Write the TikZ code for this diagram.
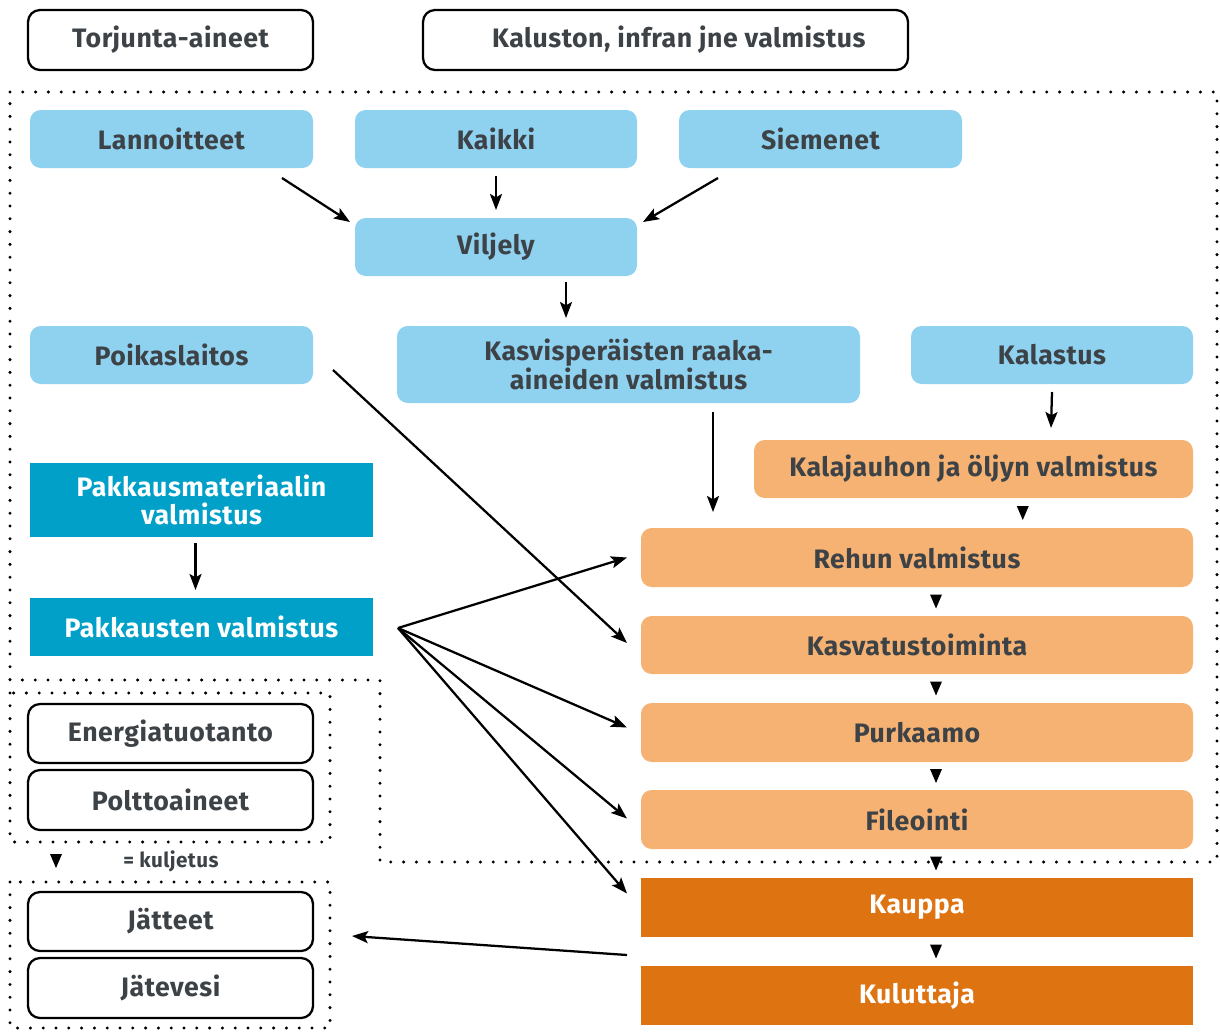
\documentclass[tikz,border=0pt]{standalone}
\usepackage{fontspec}
\setmainfont{Fira Sans}[LetterSpace=2]
\usetikzlibrary{arrows.meta,calc}

\definecolor{skyfill}{HTML}{8FD2F0}
\definecolor{tealfill}{HTML}{00A0C8}
\definecolor{peachfill}{HTML}{F5B273}
\definecolor{rustfill}{HTML}{DE7312}
\definecolor{inkgrey}{HTML}{3D4247}

% box placed by its corners (x1,y1) (x2,y2) in pixel units
\newcommand\flowbox[7]{%
  \node[#6,minimum width={(#4-#2)*0.75pt},minimum height={(#5-#3)*0.75pt}]
    (#1) at ({(#2+#4)/2},{(#3+#5)/2}) {#7};}

\tikzset{
  base/.style={inner sep=0pt, outer sep=0pt, align=center, text=inkgrey,
    font=\fontsize{20}{20.5}\selectfont\bfseries},
  outlinebox/.style={base, draw=black, line width=1.7pt, rounded corners=9pt, fill=white},
  skybox/.style={base, fill=skyfill, rounded corners=8pt},
  tealbox/.style={base, fill=tealfill, text=white},
  peachbox/.style={base, fill=peachfill, rounded corners=8pt},
  rustbox/.style={base, fill=rustfill, text=white},
  flow/.style={draw=black, line width=1.7pt, -{Stealth[length=12pt,width=9pt,inset=2.5pt]}},
  dotline/.style={draw=black, line width=2.5pt, line cap=round, dash pattern=on 0pt off 9.6pt},
  marker/.pic={\fill[black] (-6,-7) -- (6,-7) -- (0,7) -- cycle;}
}

\begin{document}
\begin{tikzpicture}[x=0.75pt,y=-0.75pt]
\useasboundingbox (0,0) rectangle (1220,1032);

% dotted grouping borders
\draw[dotline] (10,92) -- (1217,92) -- (1217,862) -- (380,862) -- (380,680) -- (10,680) -- cycle;
\draw[dotline] (10,693) rectangle (330,842);
\draw[dotline] (10,882) rectangle (330,1028);

% outside inputs
\flowbox{torj}{28}{10}{313}{70}{outlinebox}{Torjunta-aineet}
\flowbox{kalus}{423}{10}{908}{70}{outlinebox}{\hspace*{20pt}Kaluston, infran jne valmistus}

% plant raw materials
\flowbox{lann}{30}{110}{313}{168}{skybox}{Lannoitteet}
\flowbox{kaikki}{355}{110}{637}{168}{skybox}{Kaikki}
\flowbox{siem}{679}{110}{962}{168}{skybox}{Siemenet}
\flowbox{vilj}{355}{218}{637}{276}{skybox}{Viljely}
\flowbox{poik}{30}{326}{313}{384}{skybox}{Poikaslaitos}
\flowbox{kasvis}{397}{326}{860}{403}{skybox}{Kasvisperäisten raaka-\\aineiden valmistus}
\flowbox{kalast}{911}{326}{1193}{384}{skybox}{Kalastus}

% packaging
\flowbox{pakmat}{30}{463}{373}{537}{tealbox}{Pakkausmateriaalin\\valmistus}
\flowbox{pakk}{30}{598}{373}{656}{tealbox}{Pakkausten valmistus}

% fish chain
\flowbox{kalaj}{754}{440}{1193}{498}{peachbox}{Kalajauhon ja öljyn valmistus}
\flowbox{rehu}{641}{528}{1193}{587}{peachbox}{Rehun valmistus}
\flowbox{kasvat}{641}{616}{1193}{674}{peachbox}{Kasvatustoiminta}
\flowbox{purk}{641}{703}{1193}{762}{peachbox}{Purkaamo}
\flowbox{file}{641}{790}{1193}{849}{peachbox}{Fileointi}
\flowbox{kauppa}{641}{878}{1193}{937}{rustbox}{Kauppa}
\flowbox{kulut}{641}{966}{1193}{1025}{rustbox}{Kuluttaja}

% energy and waste
\flowbox{energ}{28}{704}{313}{763}{outlinebox}{Energiatuotanto}
\flowbox{poltt}{28}{770}{313}{830}{outlinebox}{Polttoaineet}
\flowbox{jatt}{28}{892}{313}{951}{outlinebox}{Jätteet}
\flowbox{jatv}{28}{958}{313}{1018}{outlinebox}{Jätevesi}

% legend
\pic at (56,861) {marker};
\node[base, font=\fontsize{15.5}{17}\selectfont\bfseries] (legend) at (171,861) {= kuljetus};

% arrows
\draw[flow] ([shift={(-31,10)}]lann.south east) -- ([shift={(-5,4)}]vilj.north west);
\draw[flow] ([shift={(0,8)}]kaikki.south) -- ([shift={(0,-8)}]vilj.north);
\draw[flow] ([shift={(39,10)}]siem.south west) -- ([shift={(6,4)}]vilj.north east);
\draw[flow] ([shift={(70,6)}]vilj.south) -- ([shift={(-62.5,-8)}]kasvis.north);
\draw[flow] ([shift={(20,15)}]poik.east) -- ([shift={(-14,-2)}]kasvat.west);
\draw[flow] ([shift={(84.5,9)}]kasvis.south) -- ([shift={(-204,-16)}]rehu.north);
\draw[flow] ([shift={(0,8)}]kalast.south) -- ([shift={(77.5,-12)}]kalaj.north);
\draw[flow] ([shift={(-6,6)}]pakmat.south) -- ([shift={(-6,-8)}]pakk.north);

\coordinate (fan) at ([shift={(25,1)}]pakk.east);
\draw[flow] (fan) -- ([shift={(-14,0)}]rehu.west);
\draw[flow] (fan) -- ([shift={(-14,-5)}]purk.west);
\draw[flow] (fan) -- ([shift={(-14,-1)}]file.west);
\draw[flow] (fan) -- ([shift={(-14,-14)}]kauppa.west);

\draw[flow] ([shift={(-14,18)}]kauppa.south west) -- ([shift={(39,14.5)}]jatt.east);

% transport markers between stages
\pic at ($(kalaj.south)!0.5!(rehu.north)+(77.5,0)$) {marker};
\pic at ($(rehu.south)!0.5!(kasvat.north)+(19,0)$) {marker};
\pic at ($(kasvat.south)!0.5!(purk.north)+(19,0)$) {marker};
\pic at ($(purk.south)!0.5!(file.north)+(19,0)$) {marker};
\pic at ($(file.south)!0.5!(kauppa.north)+(19,0)$) {marker};
\pic at ($(kauppa.south)!0.5!(kulut.north)+(19,0)$) {marker};
\end{tikzpicture}
\end{document}
